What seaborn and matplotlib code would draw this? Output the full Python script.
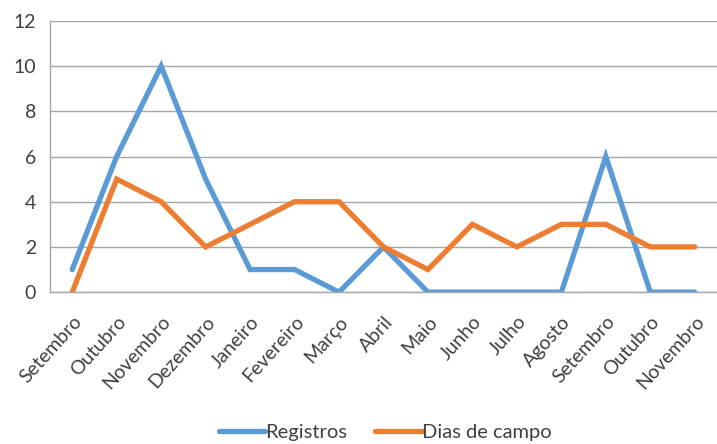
import matplotlib
matplotlib.use("Agg")
import matplotlib.pyplot as plt
import seaborn as sns
import pandas as pd
import numpy as np

# dados
meses = ["Setembro", "Outubro", "Novembro", "Dezembro", "Janeiro", "Fevereiro",
         "Março", "Abril", "Maio", "Junho", "Julho", "Agosto", "Setembro",
         "Outubro", "Novembro"]
registros = [1, 6, 10, 5, 1, 1, 0, 2, 0, 0, 0, 0, 6, 0, 0]
dias_campo = [0, 5, 4, 2, 3, 4, 4, 2, 1, 3, 2, 3, 3, 2, 2]

sns.set_style("white")
plt.rcParams['font.family'] = ['Lato', 'DejaVu Sans']

pos = np.arange(len(meses))
df = pd.DataFrame({
    "pos": np.concatenate([pos, pos]),
    "valor": registros + dias_campo,
    "serie": ["Registros"] * len(meses) + ["Dias de campo"] * len(meses),
})

fig = plt.figure(figsize=(7.17, 4.44), dpi=100)
ax = fig.add_axes([0.0697, 0.342, 0.9303, 0.611])

sns.lineplot(data=df, x="pos", y="valor", hue="serie",
             palette=["#5B9BD5", "#ED7D31"], linewidth=3.8, ax=ax,
             legend=True)
for ln in ax.lines:
    ln.set_solid_capstyle("round")
    ln.set_solid_joinstyle("miter")

ax.set_xlim(-0.5, 14.22)
ax.set_ylim(0, 12)
ax.set_yticks(range(0, 13, 2))
ax.yaxis.grid(True, color="#A6A6A6", linewidth=1)
ax.set_axisbelow(True)
ax.tick_params(axis="y", length=7, width=1, color="#A6A6A6",
               labelsize=14, labelcolor="#404040", pad=3)
ax.set_xticks(pos)
ax.set_xticklabels(meses, rotation=48, ha="right", rotation_mode="anchor",
                   fontsize=14, color="#404040")
ax.set_xticks(np.arange(-0.5, 14.6, 1), minor=True)
ax.tick_params(axis="x", which="major", length=0, pad=15)
ax.tick_params(axis="x", which="minor", length=6, width=1, color="#A6A6A6")
ax.set_xlabel("")
ax.set_ylabel("")

for s in ["top", "right"]:
    ax.spines[s].set_visible(False)
for s in ["left", "bottom"]:
    ax.spines[s].set_color("#A6A6A6")
    ax.spines[s].set_linewidth(1)

handles, labels = ax.get_legend_handles_labels()
ax.get_legend().remove()
fig.legend(handles, labels, loc="center", bbox_to_anchor=(0.537, 0.027),
           ncol=2, frameon=False, fontsize=14.5, handlelength=2.3,
           columnspacing=1.4, handletextpad=0.0, labelcolor="#404040")

fig.savefig("out.png", dpi=100)
